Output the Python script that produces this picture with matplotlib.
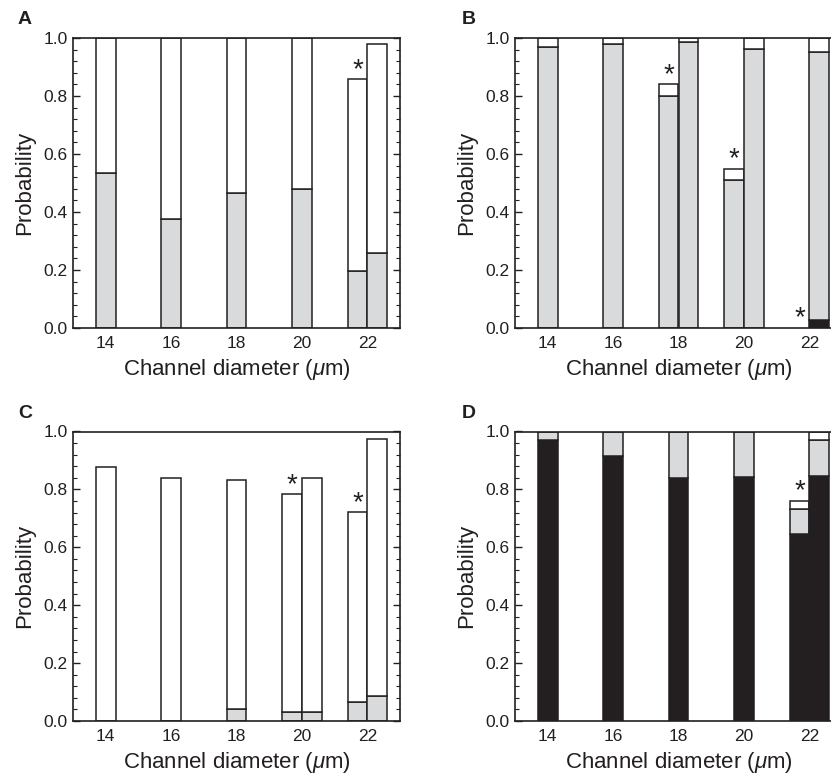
import matplotlib
matplotlib.use("Agg")
import matplotlib.pyplot as plt
from matplotlib.ticker import MultipleLocator, FormatStrFormatter

plt.rcParams['font.family'] = ['Liberation Sans', 'DejaVu Sans']
plt.rcParams['mathtext.fontset'] = 'custom'
plt.rcParams['mathtext.rm'] = 'Liberation Sans'
plt.rcParams['mathtext.it'] = 'Liberation Sans:italic'

# ---------------- data ----------------
diameters = [14, 16, 18, 20, 22]
xlabel_text = r'Channel diameter ($\mathit{\mu}$m)'
ylabel_text = 'Probability'
panel_letters = ['A', 'B', 'C', 'D']

# slot: 0 = single centred bar, -1 = left bar of pair, 1 = right bar of pair
# black_top / gray_top / total are cumulative stacked boundaries
a_x = [14, 16, 18, 20, 22, 22]
a_slot = [0, 0, 0, 0, -1, 1]
a_black_top = [0, 0, 0, 0, 0, 0]
a_gray_top = [0.536, 0.376, 0.466, 0.479, 0.198, 0.260]
a_total = [1.0, 1.0, 1.0, 1.0, 0.857, 0.978]
a_star = [False, False, False, False, True, False]

b_x = [14, 16, 18, 18, 20, 20, 22, 22]
b_slot = [0, 0, -1, 1, -1, 1, -1, 1]
b_black_top = [0, 0, 0, 0, 0, 0, 0, 0.029]
b_gray_top = [0.969, 0.980, 0.801, 0.986, 0.510, 0.961, 0.0, 0.952]
b_total = [1.0, 1.0, 0.841, 1.0, 0.549, 1.0, 0.0, 1.0]
b_star = [False, False, True, False, True, False, True, False]

c_x = [14, 16, 18, 20, 20, 22, 22]
c_slot = [0, 0, 0, -1, 1, -1, 1]
c_black_top = [0, 0, 0, 0, 0, 0, 0]
c_gray_top = [0.0, 0.0, 0.041, 0.031, 0.031, 0.067, 0.086]
c_total = [0.876, 0.839, 0.832, 0.783, 0.841, 0.721, 0.975]
c_star = [False, False, False, True, False, True, False]

d_x = [14, 16, 18, 20, 22, 22]
d_slot = [0, 0, 0, 0, -1, 1]
d_black_top = [0.970, 0.915, 0.839, 0.842, 0.646, 0.846]
d_gray_top = [1.0, 1.0, 1.0, 1.0, 0.734, 0.969]
d_total = [1.0, 1.0, 1.0, 1.0, 0.760, 1.0]
d_star = [False, False, False, False, True, False]

panels = [
    (a_x, a_slot, a_black_top, a_gray_top, a_total, a_star),
    (b_x, b_slot, b_black_top, b_gray_top, b_total, b_star),
    (c_x, c_slot, c_black_top, c_gray_top, c_total, c_star),
    (d_x, d_slot, d_black_top, d_gray_top, d_total, d_star),
]

# ---------------- style ----------------
W, H = 831, 774
DARK = '#231f20'
GRAY = '#d9dadb'
BAR_W = 0.6
fig = plt.figure(figsize=(W / 100, H / 100), dpi=100)
fig.patch.set_facecolor('white')

# axes pixel boxes (left, top, right, bottom)
boxes = [(73, 38, 400, 328), (515, 38, 842, 328),
         (73, 431.5, 400, 721), (515, 431.5, 842, 721)]
letter_pos = [(18, 19), (462, 19), (18, 413), (462, 413)]

for i, (box, data) in enumerate(zip(boxes, panels)):
    l, t, r, b = box
    ax = fig.add_axes([l / W, 1 - b / H, (r - l) / W, (b - t) / H])
    xs, slots, blk, gry, tot, star = data
    for x, s, bt, gt, tt, st in zip(xs, slots, blk, gry, tot, star):
        xc = x + s * BAR_W / 2
        segs = [(0, bt, DARK), (bt, gt, GRAY), (gt, tt, 'white')]
        for lo, hi, col in segs:
            if hi - lo > 1e-6:
                ax.bar(xc, hi - lo, bottom=lo, width=BAR_W, color=col,
                       edgecolor=DARK, linewidth=1.1, zorder=2)
        if st:
            ax.text(xc, tt + 0.008, '*', ha='center', va='baseline',
                    fontsize=20, color=DARK, zorder=3)
    ax.set_xlim(13, 23)
    ax.set_ylim(0, 1.0)
    ax.set_xticks(diameters)
    ax.set_xticklabels([str(d) for d in diameters])
    ax.yaxis.set_major_locator(MultipleLocator(0.2))
    ax.yaxis.set_minor_locator(MultipleLocator(0.04))
    ax.yaxis.set_major_formatter(FormatStrFormatter('%.1f'))
    ax.tick_params(axis='x', length=0, pad=6, labelsize=12.5, colors=DARK)
    ax.tick_params(axis='y', which='major', direction='in', length=5,
                   width=1.0, left=True, right=True, labelsize=12.5, pad=4,
                   colors=DARK)
    ax.tick_params(axis='y', which='minor', direction='in', length=3,
                   width=0.8, left=True, right=True, colors=DARK)
    for sp in ax.spines.values():
        sp.set_color(DARK)
        sp.set_linewidth(1.2)
    ax.set_xlabel(xlabel_text, fontsize=16, color=DARK, labelpad=4)
    ax.set_ylabel(ylabel_text, fontsize=16, color=DARK, labelpad=6)
    lx, ly = letter_pos[i]
    fig.text(lx / W, 1 - ly / H, panel_letters[i], fontsize=14,
             fontweight='bold', ha='left', va='center', color=DARK)

fig.savefig('out.png', dpi=100, facecolor='white')
